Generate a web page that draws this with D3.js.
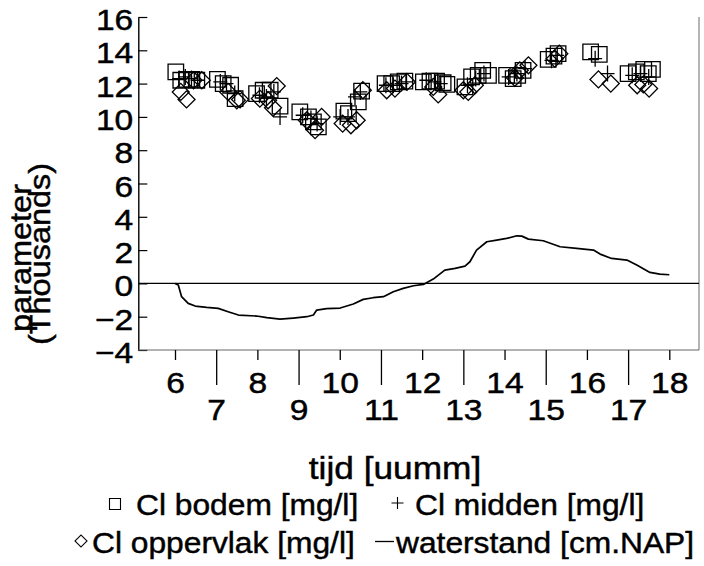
<!DOCTYPE html>
<html><head><meta charset="utf-8">
<script src="https://cdn.jsdelivr.net/npm/d3@7"></script>
<style>
body{margin:0;background:#fff}
svg{display:block}
text{font-family:"Liberation Sans",Arial,Helvetica,sans-serif;fill:#000;stroke:#000;stroke-width:0.45px}
</style>
</head><body>
<svg id="c" width="704" height="566"></svg>
<script>
const xTicks=[6,7,8,9,10,11,12,13,14,15,16,17,18];
const yTicks=[-4,-2,0,2,4,6,8,10,12,14,16];
const seriesNames=["Cl bodem [mg/l]","Cl midden [mg/l]","Cl oppervlak [mg/l]","waterstand [cm.NAP]"];
const xTitle="tijd [uumm]";
const yTitle=["parameter","(Thousands)"];

const bodemTime=[6.02,6.14,6.28,6.41,6.53, 7.03,7.17,7.35,7.46, 7.98,8.14,8.31,8.55, 9.03,9.24,9.36,9.48, 10.10,10.21,10.45,10.53, 11.10,11.26,11.42,11.58, 12.03,12.19,12.35,12.51,12.60, 13.04,13.20,13.36,13.47,13.61, 14.05,14.21,14.32,14.45, 15.06,15.20,15.30, 16.09,16.30, 17.00,17.20,17.38,17.49,17.59];
const bodemVal=[12.7,12.2,12.25,12.25,12.2, 12.25,12.0,11.9,11.1, 11.4,11.6,11.6,10.65, 10.3,10.0,9.7,9.4, 10.35,10.2,10.9,11.55, 12.0,12.0,12.1,12.15, 12.1,12.15,12.15,12.05,11.95, 11.8,12.4,12.5,12.8,12.5, 12.5,12.3,12.5,12.8, 13.45,13.65,13.8, 13.9,13.75, 12.6,12.7,12.85,12.6,12.85];

const middenTime=[6.10,6.25,6.40,6.55, 7.10,7.25,7.45, 8.05,8.22,8.40,8.55, 9.10,9.30,9.45, 10.01,10.20,10.37,10.50, 11.12,11.30,11.50,11.62, 12.10,12.30,12.45, 13.10,13.30,13.50, 14.10,14.30,14.50, 15.14,15.28, 16.20,16.50, 17.10,17.30,17.50];
const middenVal=[12.3,12.4,12.3,12.2, 12.1,12.0,11.4, 11.3,11.2,11.5,10.0, 10.1,9.9,9.6, 10.0,10.0,11.2,11.5, 11.9,11.9,12.0,12.1, 12.2,12.1,12.0, 11.9,12.3,12.6, 12.4,12.6,12.9, 13.4,13.7, 13.5,12.6, 12.5,12.6,12.4];

const opperTime=[6.14,6.28,6.45,6.65, 7.29,7.50,7.58, 8.06,8.26,8.38,8.47, 9.20,9.40,9.56, 10.07,10.27,10.41,10.56, 11.14,11.34,11.63, 12.27,12.39, 13.00,13.12,13.28, 14.25,14.37,14.58, 15.22,15.33, 16.28,16.58, 17.22,17.37,17.51];
const opperVal=[11.5,11.05,12.2,12.2, 11.5,11.0,11.05, 11.1,11.0,10.55,11.85, 9.8,9.2,10.0, 9.6,9.5,9.8,11.6, 11.6,11.7,12.1, 11.8,11.35, 11.6,11.5,11.9, 12.35,12.8,13.1, 13.5,13.8, 12.25,12.0, 11.9,11.95,11.7];

const waterTime=[6.00,6.08,6.16,6.32,6.49,6.77,7.05,7.29,7.54,7.98,8.23,8.55,8.87,9.20,9.36,9.44,9.68,10.01,10.33,10.57,10.81,11.06,11.30,11.54,11.79,12.03,12.27,12.55,12.80,13.04,13.16,13.32,13.57,13.81,14.05,14.30,14.42,14.58,14.94,15.35,15.75,16.16,16.32,16.60,16.97,17.21,17.53,17.77,18.00];
const waterVal=[0,-0.1,-0.8,-1.2,-1.36,-1.44,-1.5,-1.7,-1.9,-1.96,-2.06,-2.14,-2.08,-2.0,-1.9,-1.6,-1.52,-1.48,-1.24,-0.96,-0.86,-0.8,-0.5,-0.3,-0.14,-0.06,0.26,0.8,0.9,1.04,1.3,2.0,2.5,2.6,2.7,2.86,2.84,2.66,2.56,2.2,2.1,2.0,1.76,1.5,1.4,1.1,0.66,0.56,0.52];

const zip=(t,v)=>t.map((d,i)=>({t:d,v:v[i]}));
const svg=d3.select('#c');
const x=d3.scaleLinear().domain([6,18]).range([175,669.3]);
const y=d3.scaleLinear().domain([-4,16]).range([350,17]);
const X0=138.3, X1=699, SX=1.12;
const fmt=d=>d<0?'\u2212'+(-d):String(d);

// y axis
const gy=svg.append('g').attr('transform',`translate(${X0},0)`)
  .call(d3.axisLeft(y).tickValues(yTicks).tickSizeInner(-9).tickSizeOuter(0).tickFormat(fmt));
gy.select('.domain').attr('stroke','#000').attr('stroke-width',1.4);
gy.selectAll('.tick line').attr('stroke','#000').attr('stroke-width',1.2);
gy.selectAll('.tick text').attr('x',0).attr('dy',null).attr('font-size',30)
  .attr('text-anchor','end').attr('transform',`translate(-5,12.5) scale(${SX},1)`);

// x axis
svg.append('line').attr('x1',X0).attr('x2',X1).attr('y1',350).attr('y2',350)
  .attr('stroke','#666').attr('stroke-width',1);
const gx=svg.append('g').attr('transform','translate(0,350)')
  .call(d3.axisBottom(x).tickValues(xTicks).tickSizeOuter(0).tickSize(10));
gx.select('.domain').remove();
gx.selectAll('.tick line').attr('stroke','#000').attr('stroke-width',1.3).attr('y2',d=>d%2?35:10);
gx.selectAll('.tick text').attr('y',0).attr('dy',null).attr('font-size',30)
  .attr('text-anchor','middle').attr('transform',d=>`translate(0,${d%2?70:43}) scale(${SX},1)`);

// right border & zero line
svg.append('line').attr('x1',X1).attr('x2',X1).attr('y1',17).attr('y2',350).attr('stroke','#444').attr('stroke-width',0.8);
svg.append('line').attr('x1',X0).attr('x2',X1).attr('y1',y(0)).attr('y2',y(0)).attr('stroke','#000').attr('stroke-width',1.4);

// waterstand
svg.append('path').datum(zip(waterTime,waterVal))
  .attr('d',d3.line().x(d=>x(d.t)).y(d=>y(d.v)))
  .attr('fill','none').attr('stroke','#000').attr('stroke-width',1.7).attr('stroke-linejoin','round');

const sq=d3.symbol().type(d3.symbolSquare).size(15.5*15.5)();
const dia=d3.symbol().type(d3.symbolSquare).size(12*12)();
const plus='M-7,0H7M0,-8V8';

function markers(data,path,rot){
  svg.append('g').selectAll('path').data(data).join('path')
    .attr('d',path).attr('transform',d=>`translate(${x(d.t)},${y(d.v)})${rot?' rotate(45)':''}`)
    .attr('fill','none').attr('stroke','#000').attr('stroke-width',1.3);
}
markers(zip(bodemTime,bodemVal),sq,false);
markers(zip(middenTime,middenVal),plus,false);
markers(zip(opperTime,opperVal),dia,true);

// titles
function txt(s,x0,y0,size,anchor,rot,sx){
  return svg.append('text').text(s).attr('font-size',size).attr('text-anchor',anchor)
   .attr('transform',`translate(${x0},${y0})${rot?' rotate(-90)':''} scale(${sx||SX},1)`);
}
txt(xTitle,395,479,31.5,'middle');
txt(yTitle[0],31,258,29,'middle',true);
txt(yTitle[1],50,254,29,'middle',true);

// legend
const LS=1.095, LF=29;
const leg=svg.append('g');
leg.append('path').attr('d',d3.symbol().type(d3.symbolSquare).size(11*11)()).attr('transform','translate(115,504)')
  .attr('fill','none').attr('stroke','#000').attr('stroke-width',1.1);
txt(seriesNames[0],136,515,LF,'start',false,LS);
leg.append('path').attr('d','M-6,0H6M0,-6V6').attr('transform','translate(397.5,503)')
  .attr('fill','none').attr('stroke','#000').attr('stroke-width',1.1);
txt(seriesNames[1],415,515,LF,'start',false,LS);
leg.append('path').attr('d',d3.symbol().type(d3.symbolSquare).size(8.5*8.5)()).attr('transform','translate(81,541) rotate(45)')
  .attr('fill','none').attr('stroke','#000').attr('stroke-width',1.1);
txt(seriesNames[2],92,553,LF,'start',false,LS);
leg.append('line').attr('x1',375).attr('x2',394).attr('y1',541.5).attr('y2',541.5).attr('stroke','#000').attr('stroke-width',1.3);
txt(seriesNames[3],396,553,LF,'start',false,LS);
</script>
</body></html>
